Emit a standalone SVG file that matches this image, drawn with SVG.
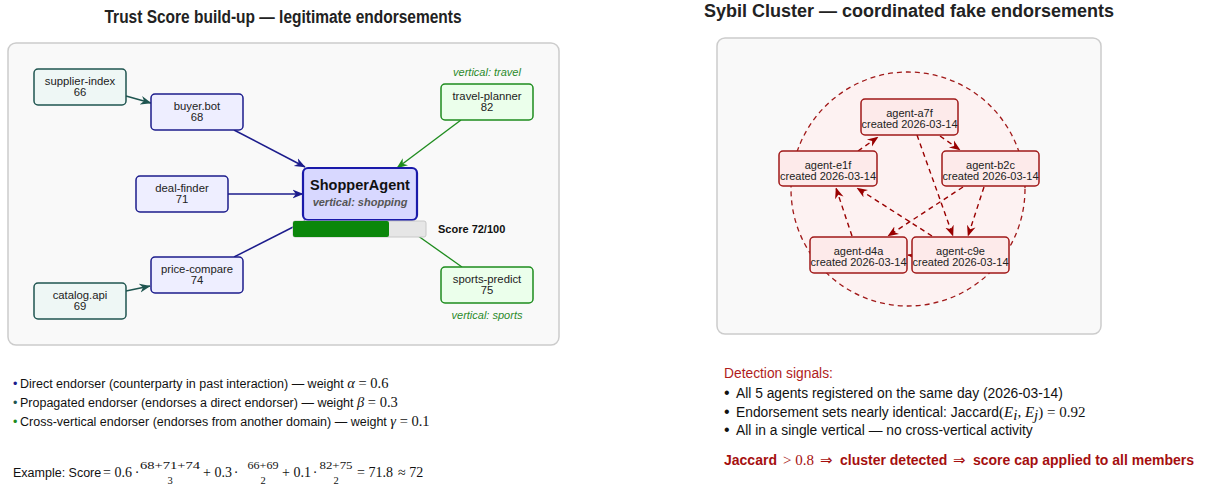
<svg xmlns="http://www.w3.org/2000/svg" width="1207" height="485" viewBox="0 0 1207 485">
<style>
  .sans { font-family: "Liberation Sans", Arial, sans-serif; }
  .title { font-family: "Liberation Sans", Arial, sans-serif; font-size: 18px; font-weight: bold; fill: #222; }
  .panel { fill: #f9f9f9; stroke: #cccccc; stroke-width: 1.5; }
  .lbl { font-family: "Liberation Sans", Arial, sans-serif; font-size: 11.3px; fill: #222; text-anchor: middle; }
  .navy { fill: #eeeeff; stroke: #1c1c8c; stroke-width: 1.5; }
  .teal { fill: #eef7f5; stroke: #1f5550; stroke-width: 1.5; }
  .green { fill: #ebffeb; stroke: #1e8c1e; stroke-width: 1.5; }
  .vlab { font-family: "Liberation Sans", Arial, sans-serif; font-size: 11px; font-style: italic; fill: #2a8a2a; text-anchor: middle; }
  .e-navy { stroke: #1c1c8c; stroke-width: 1.5; fill: none; }
  .e-teal { stroke: #1f5550; stroke-width: 1.5; fill: none; }
  .e-green { stroke: #1e8c1e; stroke-width: 1.3; fill: none; }
  .e-red { stroke: #990000; stroke-width: 1.4; fill: none; stroke-dasharray: 5 4; }
  .syb { fill: #fdeaea; stroke: #a01818; stroke-width: 1.5; }
  .slbl { font-family: "Liberation Sans", Arial, sans-serif; font-size: 11px; fill: #222; text-anchor: middle; }
  .body { font-family: "Liberation Sans", Arial, sans-serif; font-size: 12.5px; fill: #111; }
  .m { font-family: "Liberation Serif", "DejaVu Serif", serif; font-size: 14.5px; }
  .math { font-family: "Liberation Serif", "DejaVu Serif", serif; font-size: 14px; fill: #111; }
  .frac { font-family: "Liberation Serif", "DejaVu Serif", serif; font-size: 10.5px; fill: #111; text-anchor: middle; }
  .rbody { font-family: "Liberation Sans", Arial, sans-serif; font-size: 13.8px; fill: #111; }
  .rm { font-family: "Liberation Serif", "DejaVu Serif", serif; font-size: 15px; }
  .red { font-family: "Liberation Sans", Arial, sans-serif; font-size: 14px; font-weight: bold; fill: #a50f0f; }
  .redm { font-family: "Liberation Serif", "DejaVu Serif", serif; font-size: 15px; fill: #a50f0f; }
  .arr { font-family: "DejaVu Sans", sans-serif; font-size: 15px; fill: #a50f0f; }
</style>
<defs>
  <marker id="a-navy" viewBox="0 0 10 10" refX="9.5" refY="5" markerWidth="11" markerHeight="11" markerUnits="userSpaceOnUse" orient="auto">
    <path d="M0,1 L10,5 L0,9 L3,5 z" fill="#1c1c8c"/>
  </marker>
  <marker id="a-teal" viewBox="0 0 10 10" refX="9.5" refY="5" markerWidth="11" markerHeight="11" markerUnits="userSpaceOnUse" orient="auto">
    <path d="M0,1 L10,5 L0,9 L3,5 z" fill="#1f5550"/>
  </marker>
  <marker id="a-green" viewBox="0 0 10 10" refX="9.5" refY="5" markerWidth="11" markerHeight="11" markerUnits="userSpaceOnUse" orient="auto">
    <path d="M0,1 L10,5 L0,9 L3,5 z" fill="#1e8c1e"/>
  </marker>
  <marker id="a-red" viewBox="0 0 10 10" refX="9.5" refY="5" markerWidth="11" markerHeight="11" markerUnits="userSpaceOnUse" orient="auto">
    <path d="M0,1 L10,5 L0,9 L3,5 z" fill="#990000"/>
  </marker>
</defs>

<!-- LEFT PANEL -->
<text class="title" x="283" y="23" text-anchor="middle" textLength="357" lengthAdjust="spacingAndGlyphs">Trust Score build-up — legitimate endorsements</text>
<rect class="panel" x="8" y="43" width="551" height="302" rx="8"/>

<g id="edges-left">
  <line class="e-teal" x1="126" y1="96" x2="151" y2="103" marker-end="url(#a-teal)"/>
  <line class="e-navy" x1="234" y1="130" x2="305" y2="167" marker-end="url(#a-navy)"/>
  <line class="e-navy" x1="228" y1="194" x2="303" y2="194" marker-end="url(#a-navy)"/>
  <line class="e-navy" x1="234" y1="257" x2="305" y2="221" marker-end="url(#a-navy)"/>
  <line class="e-teal" x1="126" y1="291" x2="150" y2="286" marker-end="url(#a-teal)"/>
  <line class="e-green" x1="461" y1="120" x2="397" y2="168" marker-end="url(#a-green)"/>
  <line class="e-green" x1="462" y1="267" x2="397" y2="221" marker-end="url(#a-green)"/>
</g>

<g id="supplier-index">
  <rect class="teal" x="34" y="69" width="92" height="36" rx="4"/>
  <text class="lbl" x="80" y="85">supplier-index</text>
  <text class="lbl" x="80" y="96">66</text>
</g>
<g id="buyer-bot">
  <rect class="navy" x="151" y="94" width="92" height="36" rx="4"/>
  <text class="lbl" x="197" y="110">buyer.bot</text>
  <text class="lbl" x="197" y="121">68</text>
</g>
<g id="deal-finder">
  <rect class="navy" x="136" y="176" width="92" height="36" rx="4"/>
  <text class="lbl" x="182" y="192">deal-finder</text>
  <text class="lbl" x="182" y="203">71</text>
</g>
<g id="price-compare">
  <rect class="navy" x="151" y="257" width="92" height="36" rx="4"/>
  <text class="lbl" x="197" y="273">price-compare</text>
  <text class="lbl" x="197" y="284">74</text>
</g>
<g id="catalog-api">
  <rect class="teal" x="34" y="283" width="92" height="36" rx="4"/>
  <text class="lbl" x="80" y="299">catalog.api</text>
  <text class="lbl" x="80" y="310">69</text>
</g>
<g id="travel-planner">
  <text class="vlab" x="487" y="76">vertical: travel</text>
  <rect class="green" x="441" y="84" width="92" height="36" rx="4"/>
  <text class="lbl" x="487" y="100">travel-planner</text>
  <text class="lbl" x="487" y="111">82</text>
</g>
<g id="sports-predict">
  <rect class="green" x="441" y="267" width="92" height="36" rx="4"/>
  <text class="lbl" x="487" y="283">sports-predict</text>
  <text class="lbl" x="487" y="294">75</text>
  <text class="vlab" x="487" y="319">vertical: sports</text>
</g>
<g id="shopper-agent">
  <rect x="303" y="168" width="114" height="52" rx="5" fill="#d8d8ff" stroke="#1a1aaa" stroke-width="2.2"/>
  <text x="360" y="190" text-anchor="middle" class="sans" font-size="14.5" font-weight="bold" fill="#111">ShopperAgent</text>
  <text x="360" y="206" text-anchor="middle" class="sans" font-size="11" font-weight="bold" font-style="italic" fill="#555">vertical: shopping</text>
</g>
<g id="score-bar">
  <rect x="293" y="221" width="133" height="16" rx="2" fill="#e6e6e6" stroke="#c8c8c8" stroke-width="1"/>
  <rect x="293" y="221" width="96" height="16" rx="2" fill="#0b870b"/>
  <text x="438" y="233" class="sans" font-size="11" font-weight="bold" fill="#111">Score 72/100</text>
</g>

<g id="legend-left">
  <text class="body" x="13" y="388"><tspan fill="#1c1c8c">•</tspan><tspan x="20">Direct endorser (counterparty in past interaction) — weight </tspan><tspan class="m" font-style="italic">α</tspan><tspan class="m"> = 0.6</tspan></text>
  <text class="body" x="13" y="407"><tspan fill="#1f5550">•</tspan><tspan x="20">Propagated endorser (endorses a direct endorser) — weight </tspan><tspan class="m" font-style="italic">β</tspan><tspan class="m"> = 0.3</tspan></text>
  <text class="body" x="13" y="426"><tspan fill="#1e8c1e">•</tspan><tspan x="20">Cross-vertical endorser (endorses from another domain) — weight </tspan><tspan class="m" font-style="italic">γ</tspan><tspan class="m"> = 0.1</tspan></text>
</g>

<g id="example">
  <text class="body" x="13" y="477">Example: Score</text>
  <text class="math" x="103" y="477">= 0.6</text>
  <text class="math" x="137" y="477" text-anchor="middle">·</text>
  <text class="frac" x="170" y="469" textLength="60" lengthAdjust="spacingAndGlyphs">68+71+74</text>
  <text class="frac" x="170" y="484">3</text>
  <text class="math" x="203" y="477">+ 0.3</text>
  <text class="math" x="236" y="477" text-anchor="middle">·</text>
  <text class="frac" x="263" y="469" textLength="31" lengthAdjust="spacingAndGlyphs">66+69</text>
  <text class="frac" x="263" y="484">2</text>
  <text class="math" x="282" y="477">+ 0.1</text>
  <text class="math" x="315" y="477" text-anchor="middle">·</text>
  <text class="frac" x="336" y="469" textLength="33" lengthAdjust="spacingAndGlyphs">82+75</text>
  <text class="frac" x="336" y="484">2</text>
  <text class="math" x="357" y="477">= 71.8</text>
  <text class="math" x="398" y="477">≈ 72</text>
</g>

<!-- RIGHT PANEL -->
<text class="title" x="909" y="17" text-anchor="middle">Sybil Cluster — coordinated fake endorsements</text>
<rect class="panel" x="717" y="38" width="384" height="296" rx="8"/>
<circle id="cluster-ring" cx="908" cy="189" r="117" fill="#fdf2f2" stroke="#a01818" stroke-width="1.3" stroke-dasharray="5 4"/>

<g id="edges-right">
  <line class="e-red" x1="858" y1="151" x2="878" y2="137" marker-end="url(#a-red)"/>
  <line class="e-red" x1="940" y1="136" x2="960" y2="150" marker-end="url(#a-red)"/>
  <line class="e-red" x1="917" y1="135" x2="953" y2="236" marker-end="url(#a-red)"/>
  <line class="e-red" x1="984" y1="187" x2="968" y2="236" marker-end="url(#a-red)"/>
  <line class="e-red" x1="963" y1="187" x2="888" y2="236" marker-end="url(#a-red)"/>
  <line class="e-red" x1="932" y1="236" x2="857" y2="188" marker-end="url(#a-red)"/>
  <line class="e-red" x1="852" y1="236" x2="836" y2="188" marker-end="url(#a-red)"/>
  <line class="e-red" x1="922" y1="257" x2="908" y2="255" marker-end="url(#a-red)"/>
</g>

<g id="agent-a7f">
  <rect class="syb" x="861" y="99" width="97" height="36" rx="4"/>
  <text class="slbl" x="909.5" y="117">agent-a7f</text>
  <text class="slbl" x="909.5" y="128">created 2026-03-14</text>
</g>
<g id="agent-e1f">
  <rect class="syb" x="779" y="151" width="98" height="35" rx="4"/>
  <text class="slbl" x="828" y="169">agent-e1f</text>
  <text class="slbl" x="828" y="180">created 2026-03-14</text>
</g>
<g id="agent-b2c">
  <rect class="syb" x="942" y="151" width="97" height="35" rx="4"/>
  <text class="slbl" x="990.5" y="169">agent-b2c</text>
  <text class="slbl" x="990.5" y="180">created 2026-03-14</text>
</g>
<g id="agent-d4a">
  <rect class="syb" x="810" y="237" width="97" height="36" rx="4"/>
  <text class="slbl" x="858.5" y="255">agent-d4a</text>
  <text class="slbl" x="858.5" y="266">created 2026-03-14</text>
</g>
<g id="agent-c9e">
  <rect class="syb" x="912" y="237" width="97" height="36" rx="4"/>
  <text class="slbl" x="960.5" y="255">agent-c9e</text>
  <text class="slbl" x="960.5" y="266">created 2026-03-14</text>
</g>

<g id="detection">
  <text class="rbody" x="724" y="378" style="fill:#b01c1c">Detection signals:</text>
  <text class="rbody" x="724" y="398"><tspan font-size="16">•</tspan><tspan x="736">All 5 agents registered on the same day (2026-03-14)</tspan></text>
  <text class="rbody" x="724" y="416.5"><tspan font-size="16">•</tspan><tspan x="736">Endorsement sets nearly identical: Jaccard</tspan><tspan class="rm">(</tspan><tspan class="rm" font-style="italic">E</tspan><tspan class="rm" font-style="italic" font-size="10" dy="3">i</tspan><tspan class="rm" dy="-3">, </tspan><tspan class="rm" font-style="italic">E</tspan><tspan class="rm" font-style="italic" font-size="10" dy="3">j</tspan><tspan class="rm" dy="-3">) = 0.92</tspan></text>
  <text class="rbody" x="724" y="435"><tspan font-size="16">•</tspan><tspan x="736">All in a single vertical — no cross-vertical activity</tspan></text>

  <text class="red" x="724" y="465">Jaccard</text>
  <text class="redm" x="783" y="465">&gt; 0.8</text>
  <text class="arr" x="820" y="465">⇒</text>
  <text class="red" x="840" y="465">cluster detected</text>
  <text class="arr" x="953" y="465">⇒</text>
  <text class="red" x="973" y="465">score cap applied to all members</text>
</g>
</svg>
